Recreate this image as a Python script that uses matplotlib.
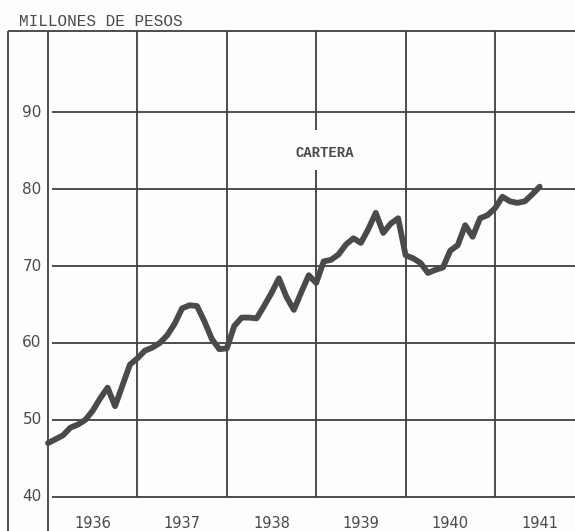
import matplotlib
matplotlib.use('Agg')
import matplotlib.pyplot as plt
import numpy as np

# Monthly "cartera" values, Jan 1936 .. Jul 1941 (millones de pesos)
cartera = [
    47.0, 47.5, 48.0, 49.0, 49.4, 50.0, 51.2, 52.8, 54.2, 51.8, 54.5, 57.2,   # 1936
    58.0, 59.0, 59.4, 60.0, 61.0, 62.5, 64.5, 64.9, 64.8, 62.8, 60.5, 59.2,   # 1937
    59.3, 62.2, 63.3, 63.3, 63.2, 64.8, 66.5, 68.4, 66.0, 64.3, 66.6, 68.8,   # 1938
    67.8, 70.6, 70.8, 71.5, 72.8, 73.6, 73.0, 74.8, 76.9, 74.3, 75.5, 76.2,   # 1939
    71.4, 71.0, 70.4, 69.1, 69.5, 69.8, 72.0, 72.7, 75.3, 73.8, 76.2, 76.6,   # 1940
    77.5, 79.0, 78.4, 78.2, 78.4, 79.3, 80.3,                                 # 1941
]
years = [1936, 1937, 1938, 1939, 1940, 1941]
y_ticks = [40, 50, 60, 70, 80, 90]

months = 1936 + np.arange(len(cartera)) / 12.0

ink = '#3f3f3f'
fig = plt.figure(figsize=(5.75, 5.31), dpi=100)
fig.patch.set_facecolor('#fdfdfb')
ax = fig.add_axes([0, 0, 1, 1])
ax.set_facecolor('#fdfdfb')
ax.set_xlim(1935.463, 1941.895)
ax.set_ylim(35.58, 104.55)
ax.axis('off')

top = 100.52
# outer frame
ax.vlines(1935.55, 35.58, top, color=ink, lw=1.3)
ax.hlines(top, 1935.55, 1941.895, color=ink, lw=1.3)

# grid
ax.vlines(1936, 35.58, top, color=ink, lw=1.3)
for yr in years[1:]:
    if yr == 1939:
        # gap around the series label
        ax.vlines(yr, 40, 82.5, color=ink, lw=1.3)
        ax.vlines(yr, 87.7, top, color=ink, lw=1.3)
    else:
        ax.vlines(yr, 40, top, color=ink, lw=1.3)
for v in y_ticks:
    ax.hlines(v, 1936.05, 1941.895, color=ink, lw=1.3)

# series
ax.plot(months, cartera, color='#4a4a4a', lw=4.2, solid_joinstyle='round',
        solid_capstyle='round')

# labels
for v in y_ticks:
    ax.text(1935.93, v, str(v), ha='right', va='center', fontsize=11,
            color='#4a4a4a', family='DejaVu Sans')
for yr in years:
    ax.text(yr + 0.5, 36.5, str(yr), ha='center', va='center', fontsize=10.5,
            color='#4a4a4a', family='DejaVu Sans')

ax.text(1935.68, 101.17, 'MILLONES DE PESOS', ha='left', va='baseline',
        fontsize=11.5, color='#4a4a4a', family='Liberation Mono')
ax.text(1939.1, 84.7, 'CARTERA', ha='center', va='center', fontsize=10,
        color='#4a4a4a', family='Liberation Mono', weight='bold')

fig.savefig('out.png', dpi=100, facecolor=fig.get_facecolor())
